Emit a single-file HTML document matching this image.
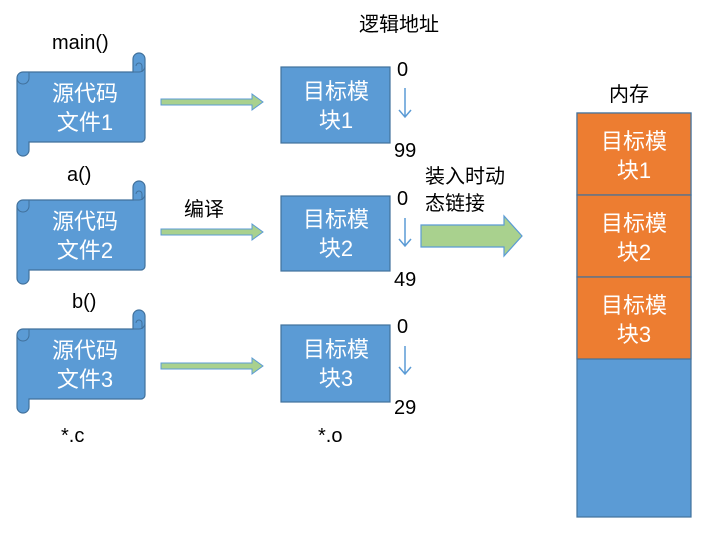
<!DOCTYPE html>
<html><head><meta charset="utf-8"><style>
body{margin:0;background:#fff;width:721px;height:530px;overflow:hidden}
svg text{font-family:"Liberation Sans","Noto Sans CJK SC",sans-serif}
</style></head><body>
<svg width="721" height="530" xmlns="http://www.w3.org/2000/svg">
<defs>
<g id="scroll">
  <path d="M24,16 H134 V3 a6,6 0 0 1 12,0 V82 a4,4 0 0 1 -4,4 H30 V94 a6,6 0 0 1 -12,0 V22 a6,6 0 0 1 6,-6 Z" fill="#5b9bd5" stroke="#41719c" stroke-width="1.2"/>
  <path d="M134,16 H140 a6,6 0 0 0 6,-6" fill="none" stroke="#41719c" stroke-width="1"/>
  <path d="M18,22 a6,6 0 0 0 12,0 V16" fill="none" stroke="#41719c" stroke-width="1"/>
  <path d="M137,10 a3,3 0 0 1 6,0 V16" fill="none" stroke="#41719c" stroke-width="1"/>
</g>
<g id="sarrow"><path d="M161,99 H252 V94 L263,102 L252,110 V105 H161 Z" fill="#a9d18e" stroke="#5b9bd5" stroke-width="1"/></g>
</defs>
<g fill="#000" font-size="20">
<text x="52" y="49">main()</text>
<text x="67" y="181">a()</text>
<text x="72" y="308">b()</text>
<text x="61" y="442">*.c</text>
<text x="318" y="442">*.o</text>
<text x="359" y="31">逻辑地址</text>
<text x="184" y="216">编译</text>
<text x="425" y="183">装入时动</text>
<text x="425" y="210">态链接</text>
<text x="609" y="101">内存</text>
<text x="397" y="76">0</text><text x="394" y="157">99</text>
<text x="397" y="205">0</text><text x="394" y="286">49</text>
<text x="397" y="333">0</text><text x="394" y="414">29</text>
</g>
<use href="#scroll" transform="translate(-1,56)"/>
<use href="#scroll" transform="translate(-1,184)"/>
<use href="#scroll" transform="translate(-1,313)"/>
<g fill="#fff" font-size="22" text-anchor="middle">
<text x="85" y="101">源代码</text><text x="85" y="130">文件1</text>
<text x="85" y="229">源代码</text><text x="85" y="258">文件2</text>
<text x="85" y="358">源代码</text><text x="85" y="387">文件3</text>
</g>
<use href="#sarrow"/>
<use href="#sarrow" transform="translate(0,130)"/>
<use href="#sarrow" transform="translate(0,264)"/>
<g fill="#5b9bd5" stroke="#41719c" stroke-width="1.2">
<rect x="281" y="67" width="109" height="76"/>
<rect x="281" y="196" width="109" height="75"/>
<rect x="281" y="325" width="109" height="77"/>
</g>
<g fill="#fff" font-size="22" text-anchor="middle">
<text x="336" y="99">目标模</text><text x="336" y="128">块1</text>
<text x="336" y="227">目标模</text><text x="336" y="256">块2</text>
<text x="336" y="357">目标模</text><text x="336" y="386">块3</text>
</g>
<g stroke="#5b9bd5" stroke-width="1.5" fill="none">
<path d="M405,88 V117 M399,110 L405,117 L411,110"/>
<path d="M405,218 V246 M399,239 L405,246 L411,239"/>
<path d="M405,346 V374 M399,367 L405,374 L411,367"/>
</g>
<path d="M421,225 H504 V216 L522,236 L504,256 V247 H421 Z" fill="#a9d18e" stroke="#5b9bd5" stroke-width="1.2"/>
<rect x="577" y="113" width="114" height="404" fill="#5b9bd5" stroke="#41719c" stroke-width="1.2"/>
<g fill="#ed7d31" stroke="#41719c" stroke-width="1.2">
<rect x="577" y="113" width="114" height="82"/>
<rect x="577" y="195" width="114" height="82"/>
<rect x="577" y="277" width="114" height="82"/>
</g>
<g fill="#fff" font-size="22" text-anchor="middle">
<text x="634" y="149">目标模</text><text x="634" y="178">块1</text>
<text x="634" y="231">目标模</text><text x="634" y="260">块2</text>
<text x="634" y="313">目标模</text><text x="634" y="342">块3</text>
</g>
</svg>
</body></html>
